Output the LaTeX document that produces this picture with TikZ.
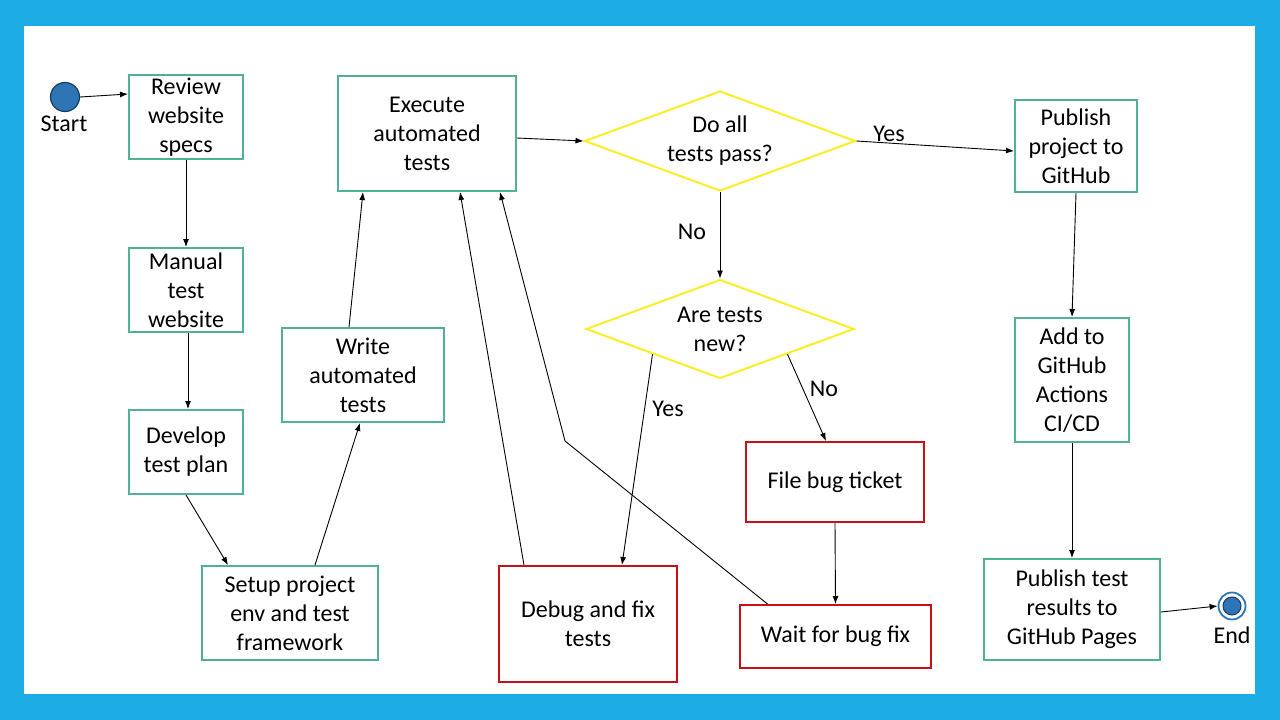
\documentclass[tikz,border=0pt]{standalone}
\usepackage{fontspec}
\setmainfont{Carlito}
\usetikzlibrary{shapes.geometric,arrows.meta}
\definecolor{slideblue}{RGB}{30,172,228}
\definecolor{boxteal}{RGB}{80,176,152}
\definecolor{boxred}{RGB}{200,16,24}
\definecolor{decyellow}{RGB}{250,238,40}
\definecolor{dotblue}{RGB}{46,117,182}
\definecolor{dotrim}{RGB}{24,60,96}
\tikzset{
    txt/.style={font=\fontsize{24}{29}\selectfont, align=center, text=black},
    stepbox/.style={txt, draw=boxteal, line width=2pt, inner sep=0pt},
    bugbox/.style={txt, draw=boxred, line width=2pt, inner sep=0pt},
    decision/.style={txt, diamond, aspect=2.7, draw=decyellow, line width=2pt, inner sep=0pt,
        minimum width=270pt, minimum height=100pt},
    flow/.style={line width=0.9pt, -{Latex[length=8pt,width=6pt]}},
}
\begin{document}
\begin{tikzpicture}[x=1pt, y=-1pt]
    % Slide frame
    \fill[slideblue] (0,0) rectangle (1280,720);
    \fill[white] (24,26) rectangle (1255,694);
    \useasboundingbox (0,0) rectangle (1280,720);

    % Start and end
    \node[circle, fill=dotblue, draw=dotrim, line width=1.2pt, minimum size=29pt, inner sep=0pt] (start) at (65,97) {};
    \node[txt] (startlbl) at (64,124) {Start};
    \node[circle, draw=dotblue, fill=white, line width=1.8pt, minimum size=27pt, inner sep=0pt] (endc) at (1232,606) {};
    \node[circle, fill=dotblue, draw=dotrim, line width=1pt, minimum size=18pt, inner sep=0pt] (enddot) at (endc.center) {};
    \node[txt] (endlbl) at (1232,635) {End};

    % Left column: manual work
    \node[stepbox, minimum width=114pt, minimum height=84pt] (review) at (186,117) {Review\\website\\specs};
    \node[stepbox, minimum width=114pt, minimum height=84pt] (manual) at (186,290) {Manual\\test\\website};
    \node[stepbox, minimum width=114pt, minimum height=84pt] (plan) at (186,452) {Develop\\test plan};
    \node[stepbox, minimum width=176pt, minimum height=94pt] (setup) at (290,613) {Setup project\\env and test\\framework};
    \node[stepbox, minimum width=162pt, minimum height=94pt] (write) at (363,375) {Write\\automated\\tests};
    \node[stepbox, minimum width=178pt, minimum height=115pt] (exec) at (427,133.5) {Execute\\automated\\tests};

    % Decisions and bug handling
    \node[decision, minimum width=271pt, minimum height=100pt] (pass) at (720,141) {Do all\\tests pass?};
    \node[decision, minimum width=268pt, minimum height=99pt] (new) at (720,329) {Are tests\\new?};
    \node[bugbox, minimum width=178pt, minimum height=116pt] (debug) at (588,624) {Debug and fix\\tests};
    \node[bugbox, minimum width=178pt, minimum height=80pt] (bug) at (835,482) {File bug ticket};
    \node[bugbox, minimum width=191pt, minimum height=63pt] (wait) at (835.5,636.5) {Wait for bug fix};

    % Right column: publishing
    \node[stepbox, minimum width=122pt, minimum height=92pt] (pub) at (1076,146) {Publish\\project to\\GitHub};
    \node[stepbox, minimum width=114pt, minimum height=124pt] (ci) at (1072,380) {Add to\\GitHub\\Actions\\CI/CD};
    \node[stepbox, minimum width=176pt, minimum height=101pt] (results) at (1072,609.5) {Publish test\\results to\\GitHub Pages};

    % Branch labels
    \node[txt] (yes1) at (889,134) {Yes};
    \node[txt] (no1) at (692,232) {No};
    \node[txt] (yes2) at (668,409) {Yes};
    \node[txt] (no2) at (824,389) {No};

    \coordinate (bend) at (565,441);

    % Connectors
    \draw[flow] (start.east) -- ([yshift=23pt]review.west);
    \draw[flow] (review.south) -- (manual.north);
    \draw[flow] ([xshift=2pt]manual.south) -- ([xshift=2pt]plan.north);
    \draw[flow] (plan.south) -- ([xshift=-62pt]setup.north);
    \draw[flow] ([xshift=25pt]setup.north) -- ([xshift=-3pt]write.south);
    \draw[flow] ([xshift=-14pt]write.north) -- ([xshift=-64pt]exec.south);
    \draw[flow] ([yshift=-4.5pt]exec.east) -- (pass.west);
    \draw[flow] (pass.east) -- ([yshift=-5pt]pub.west);
    \draw[flow] (pass.south) -- (new.north);
    \draw[flow] (new.south west) -- ([xshift=34pt]debug.north);
    \draw[flow] (new.south east) -- ([xshift=-9pt]bug.north);
    \draw[flow] (bug.south) -- (wait.north);
    \draw[flow] ([xshift=-64pt]debug.north) -- ([xshift=33pt]exec.south);
    \draw[flow] ([xshift=-68pt]wait.north) -- (bend) -- ([xshift=73pt]exec.south);
    \draw[flow] (pub.south) -- (ci.north);
    \draw[flow] (ci.south) -- (results.north);
    \draw[flow] ([yshift=-2.5pt]results.east) -- (endc.west);
\end{tikzpicture}
\end{document}
